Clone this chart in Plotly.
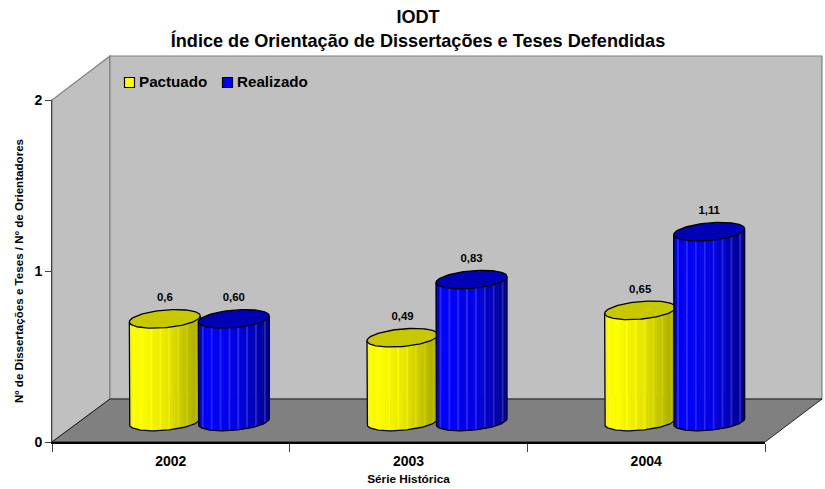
import numpy as np
import plotly.graph_objects as go

W, H = 825, 489
MT, MB = 10, 10
years = ["2002", "2003", "2004"]
pactuado = [0.60, 0.49, 0.65]
realizado = [0.60, 0.83, 1.11]
pactuado_labels = ["0,6", "0,49", "0,65"]
realizado_labels = ["0,60", "0,83", "1,11"]
y_ticks = [0, 1, 2]

# pixel geometry of the pseudo-3D frame
FX0, FX1, FY0, FY1 = 52, 765, 442, 100      # front plane
DX, DY = 58, 43                             # depth of the box
PX_X = (FX1 - FX0) / 3                      # pixels per category
PX_Y = (FY0 - FY1) / 2                      # pixels per value unit
MX, MY = 28.5, 20.5                         # offset of the bars' plane
A_PX, B_PX, K_PX = 35.5, 8.8, 3.0           # ellipse semi axes and tilt
A, B, K = A_PX / PX_X, B_PX / PX_Y, K_PX / PX_Y
OFF = 34.5 / PX_X
LOW = -0.2
N = 40


def px(x):
    return x / W


def py(y):
    return 1 - (y - MT) / (H - MT - MB)


def mix(c1, c2, f):
    return tuple(c1[i] + (c2[i] - c1[i]) * f for i in range(3))


def ramp(stops, u):
    for (u0, c0), (u1, c1) in zip(stops, stops[1:]):
        if u <= u1:
            return mix(c0, c1, (u - u0) / (u1 - u0))
    return stops[-1][1]


def rgb(c):
    return "rgb(%d,%d,%d)" % tuple(min(255, max(0, round(v))) for v in c)


YELLOW = [(0, (245, 245, 0)), (0.15, (255, 255, 0)), (0.55, (228, 228, 0)), (1, (165, 165, 0))]
BLUE = [(0, (0, 0, 235)), (0.15, (0, 0, 255)), (0.6, (0, 0, 220)), (1, (0, 0, 140))]

fig = go.Figure()
# front axes carrying ticks
fig.add_trace(go.Scatter(x=[0], y=[0], mode="markers", marker=dict(opacity=0),
                         hoverinfo="skip", showlegend=False, xaxis="x", yaxis="y"))


def cylinder(center, value, stops, top_color, name):
    xs = np.linspace(-A, A, N + 1)
    us = xs / A
    for i in range(N):
        col = ramp(stops, (i + 0.5) / N)
        if i % 5 == 2:
            col = tuple(v + 14 if v > 100 else v + 40 * (stops is BLUE) for v in col)
        x0, x1 = xs[i], xs[i + 1] + (0.3 * (xs[1] - xs[0]) if i < N - 1 else 0)
        u0, u1 = us[i], min(1, x1 / A)
        low0 = -B * np.sqrt(max(0, 1 - u0 ** 2)) + K * u0
        low1 = -B * np.sqrt(max(0, 1 - u1 ** 2)) + K * u1
        fig.add_trace(go.Scatter(
            x=[center + x0, center + x1, center + x1, center + x0, center + x0],
            y=[low0, low1, value + K * u1, value + K * u0, low0],
            mode="none", fill="toself", fillcolor=rgb(col), hoverinfo="skip",
            showlegend=False, xaxis="x2", yaxis="y2"))
    t = np.linspace(0, 2 * np.pi, 121)
    ex = A * np.cos(t)
    ey = B * np.sin(t) + K * np.cos(t)
    # body outline: left side, bottom arc, right side
    ta = np.linspace(np.pi, 2 * np.pi, 61)
    ox = center + A * np.cos(ta)
    oy = B * np.sin(ta) + K * np.cos(ta)
    fig.add_trace(go.Scatter(
        x=np.r_[center - A, ox, center + A], y=np.r_[value - K, oy, value + K],
        mode="lines", line=dict(color="#000000", width=1.3), hoverinfo="skip",
        showlegend=False, name=name, xaxis="x2", yaxis="y2"))
    fig.add_trace(go.Scatter(
        x=center + ex, y=value + ey, mode="lines", fill="toself", fillcolor=top_color,
        line=dict(color="#000000", width=1.3), hoverinfo="skip",
        showlegend=False, name=name, xaxis="x2", yaxis="y2"))


for i in range(len(years)):
    cylinder(i - OFF, pactuado[i], YELLOW, "#c8c800", "Pactuado")
    cylinder(i + OFF, realizado[i], BLUE, "#0000b4", "Realizado")

LABEL_GAP = 20.5 / PX_Y
fig.add_trace(go.Scatter(
    x=[i - OFF for i in range(3)] + [i + OFF for i in range(3)],
    y=[v + LABEL_GAP for v in pactuado + realizado],
    text=pactuado_labels + realizado_labels,
    mode="text", textposition="middle center",
    textfont=dict(family="Liberation Sans", size=11.4, color="#000000", weight="bold"),
    hoverinfo="skip", showlegend=False,
    xaxis="x2", yaxis="y2"))


def poly(pts, fill, line, width=1.2):
    path = "M" + " L".join(f"{px(a):.5f},{py(b):.5f}" for a, b in pts) + " Z"
    return dict(type="path", path=path, xref="paper", yref="paper", fillcolor=fill,
                line=dict(color=line, width=width), layer="below")


BX0, BX1, BY0, BY1 = FX0 + DX, FX1 + DX - 1, FY0 - DY, FY1 - DY - 1
shapes = [
    poly([(FX0, FY0), (BX0, BY0), (BX0, BY1), (FX0, FY1)], "#c0c0c0", "#808080"),
    poly([(BX0, BY0), (BX1, BY0), (BX1, BY1), (BX0, BY1)], "#c0c0c0", "#808080"),
    poly([(FX0, FY0), (FX1, FY0), (BX1, BY0), (BX0, BY0)], "#808080", "#000000", 0.8),
    poly([(124.5, 77.5), (134.5, 77.5), (134.5, 87.5), (124.5, 87.5)], "#ffff00", "#000000", 1.2),
    poly([(222.5, 77.5), (232.5, 77.5), (232.5, 87.5), (222.5, 87.5)], "#0000ff", "#000000", 1.2),
]
shapes[-1]["layer"] = "above"
shapes[-2]["layer"] = "above"

bold = dict(family="Liberation Sans", color="#000000", weight="bold")
annotations = [
    dict(text="Pactuado", x=px(137), y=py(82), xref="paper", yref="paper", showarrow=False,
         xanchor="left", yanchor="middle", font=dict(size=15.2, **bold)),
    dict(text="Realizado", x=px(235), y=py(82), xref="paper", yref="paper", showarrow=False,
         xanchor="left", yanchor="middle", font=dict(size=15.2, **bold)),
]

bar_y0 = FY0 - MY
bar_bottom = bar_y0 + (-LOW) * PX_Y
bar_top = bar_y0 - 2 * PX_Y

fig.update_layout(
    width=W, height=H, autosize=False,
    margin=dict(l=0, r=0, t=MT, b=MB),
    paper_bgcolor="#ffffff", plot_bgcolor="rgba(0,0,0,0)",
    showlegend=False,
    title=dict(text="IODT<br>Índice de Orientação de Dissertações e Teses Defendidas",
               x=px(418), xanchor="center", y=1 - 23 / H, yanchor="middle",
               font=dict(size=18.1, **bold)),
    shapes=shapes, annotations=annotations,
    xaxis=dict(domain=[px(FX0), px(FX1)], range=[-0.5, 2.5], tickvals=[0, 1, 2], ticktext=years,
               ticks="", showgrid=False, zeroline=False, showline=True, linecolor="#000000", linewidth=1.5,
               tickfont=dict(size=14, **bold), ticklabelstandoff=5,
               minor=dict(tickvals=[-0.5, 0.5, 1.5, 2.5], ticks="outside", ticklen=8, tickcolor="#404040", tickwidth=1),
               title=dict(text="Série Histórica", font=dict(size=11.8, **bold), standoff=7),
               anchor="y", fixedrange=True),
    yaxis=dict(domain=[py(FY0), py(FY1)], range=[0, 2], tickvals=y_ticks,
               tickformat="d", ticks="outside", ticklen=6, tickcolor="#404040",
               showgrid=False, zeroline=False, showline=True, linecolor="#404040", linewidth=1,
               tickfont=dict(size=14, **bold),
               title=dict(text="Nº de Dissertações e Teses / Nº de Orientadores",
                          font=dict(size=11.6, **bold), standoff=8),
               anchor="x", fixedrange=True),
    xaxis2=dict(domain=[px(FX0 + MX), px(FX1 + MX)], range=[-0.5, 2.5], visible=False,
                anchor="y2", fixedrange=True),
    yaxis2=dict(domain=[py(bar_bottom), py(bar_top)], range=[LOW, 2], visible=False,
                anchor="x2", fixedrange=True),
)

fig.write_html("out.html", config={"displayModeBar": False},
               post_script="document.body.style.margin='0';")
